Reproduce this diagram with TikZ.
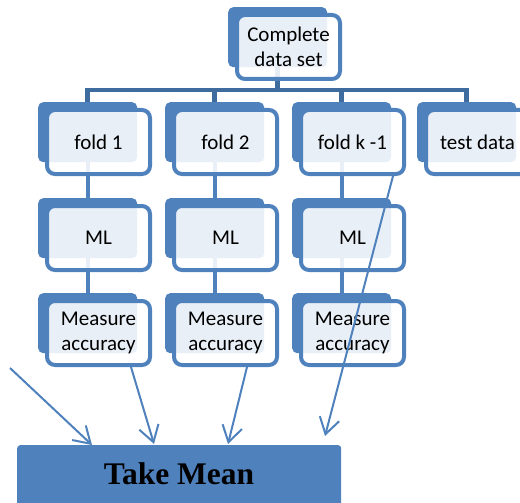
\documentclass[tikz,border=0pt]{standalone}
\usepackage{fontspec}
\setmainfont{Carlito}
\newfontfamily\tnr{Liberation Serif}
\usetikzlibrary{arrows.meta,calc}
\definecolor{mblue}{HTML}{4F81BD}
\definecolor{tblue}{HTML}{3E6C9F}
\begin{document}
\begin{tikzpicture}[x=1pt,y=-1pt,
 backbox/.style={fill=mblue, rounded corners=5pt, minimum width=99pt, minimum height=60pt, inner sep=0pt, anchor=north west},
 frontbox/.style={draw=mblue, line width=4pt, fill=white, fill opacity=0.88, text opacity=1, rounded corners=8pt, minimum width=103pt, minimum height=64pt, inner sep=0pt, align=center, font=\fontsize{21}{25}\selectfont},
 tree/.style={draw=tblue, line width=4.5pt},
 link/.style={draw=mblue, line width=4pt},
 arr/.style={draw=mblue, line width=2pt, -{Straight Barb[length=16pt,width=20pt,line width=2pt]}},
 meanbox/.style={fill=mblue, rounded corners=3pt, anchor=north west, minimum width=324pt, minimum height=80pt, inner sep=0pt},
 meantext/.style={font=\tnr\bfseries\fontsize{31.5}{34}\selectfont, inner sep=0pt}]
\useasboundingbox (0,0) rectangle (520,503);
\clip (0,0) rectangle (520,503);
% back boxes
\node[backbox] (cb) at (228,7) {};
\node[backbox] (f1b) at (38,102) {};
\node[backbox] (f2b) at (165,102) {};
\node[backbox] (f3b) at (292,102) {};
\node[backbox] (ftb) at (417,102) {};
\node[backbox] (m1b) at (38,198) {};
\node[backbox] (m2b) at (165,198) {};
\node[backbox] (m3b) at (292,198) {};
\node[backbox] (q1b) at (38,293) {};
\node[backbox] (q2b) at (165,293) {};
\node[backbox] (q3b) at (292,293) {};
% tree
\coordinate (bus) at (0,90);
\draw[tree] (f1b.north) -- (f1b.north |- bus) -- (ftb.north |- bus) -- (ftb.north);
\draw[tree] (f2b.north) -- (f2b.north |- bus);
\draw[tree] (f3b.north) -- (f3b.north |- bus);
\draw[tree] (cb.south) -- (cb.south |- bus);
% links
\draw[link] (f1b.south) -- (m1b.north);
\draw[link] (f2b.south) -- (m2b.north);
\draw[link] (f3b.south) -- (m3b.north);
\draw[link] (m1b.south) -- (q1b.north);
\draw[link] (m2b.south) -- (q2b.north);
\draw[link] (m3b.south) -- (q3b.north);
% front boxes
\node[frontbox] (cf) at (288.5,47) {Complete\\data set};
\node[frontbox] (f1f) at (98.5,142) {fold 1};
\node[frontbox] (f2f) at (225.5,142) {fold 2};
\node[frontbox] (f3f) at (352.5,142) {fold k -1};
\node[frontbox] (ftf) at (477.5,142) {test data};
\node[frontbox] (m1f) at (98.5,238) {ML};
\node[frontbox] (m2f) at (225.5,238) {ML};
\node[frontbox] (m3f) at (352.5,238) {ML};
\node[frontbox] (q1f) at (98.5,333) {Measure\\accuracy};
\node[frontbox] (q2f) at (225.5,333) {Measure\\accuracy};
\node[frontbox] (q3f) at (352.5,333) {Measure\\accuracy};
% mean
\node[meanbox] (mean) at (17,445) {};
\node[meantext] (meantxt) at (179,474) {Take Mean};
% arrows
\coordinate (s1) at (10,368);
\draw[arr] (s1) -- ($(mean.north west)+(75,0)$);
\draw[arr] ($(q1f.south west)+(86,0)$) -- ($(mean.north west)+(137,-1)$);
\draw[arr] ($(q2f.south west)+(75,0)$) -- ($(mean.north west)+(211,-1)$);
\draw[arr] ($(f3f.south west)+(94,0)$) -- ($(mean.north west)+(308,-9)$);
\end{tikzpicture}
\end{document}
